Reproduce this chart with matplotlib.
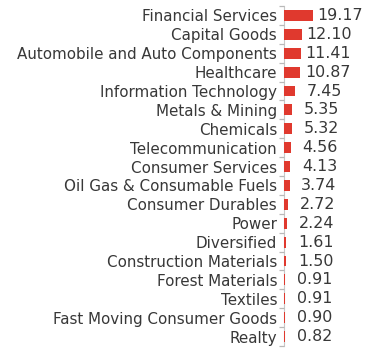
import matplotlib
matplotlib.use("Agg")
import matplotlib.pyplot as plt
import numpy as np

categories = ["Financial Services", "Capital Goods", "Automobile and Auto Components",
              "Healthcare", "Information Technology", "Metals & Mining", "Chemicals",
              "Telecommunication", "Consumer Services", "Oil Gas & Consumable Fuels",
              "Consumer Durables", "Power", "Diversified", "Construction Materials",
              "Forest Materials", "Textiles", "Fast Moving Consumer Goods", "Realty"]
values = [19.17, 12.10, 11.41, 10.87, 7.45, 5.35, 5.32, 4.56, 4.13, 3.74,
          2.72, 2.24, 1.61, 1.50, 0.91, 0.91, 0.90, 0.82]

plt.rcParams['font.family'] = ['DejaVu Sans']

fig = plt.figure(figsize=(3.85, 3.56), dpi=100)
ax = fig.add_axes([284/385, 1-346/356, 96/385, (346-6)/356])

n = len(categories)
y = np.arange(n)
ax.barh(y, values, height=0.58, color="#E0392E", zorder=3)
ax.set_ylim(n-0.5, -0.5)
ax.set_xlim(0, 63.5)

# boundary ticks (major, no labels)
ax.set_yticks(np.arange(n+1)-0.5)
ax.set_yticklabels([""] * (n+1))
ax.tick_params(axis='y', which='major', direction='out', length=3.5,
               color="#B8B8B8", width=0.9)
# category labels (minor, no tick marks)
ax.set_yticks(y, minor=True)
ax.set_yticklabels(categories, minor=True, fontsize=10.9, color="#383838")
ax.tick_params(axis='y', which='minor', length=0, pad=5)
ax.set_xticks([])
for s in ["top", "right", "bottom"]:
    ax.spines[s].set_visible(False)
ax.spines["left"].set_color("#C8C8C8")
ax.spines["left"].set_linewidth(0.8)
ax.spines["left"].set_zorder(1)

for yi, v in zip(y, values):
    off = 3.2 if v >= 10 else 8.3
    ax.annotate(f"{v:.2f}", xy=(v, yi), xytext=(off, 0),
                textcoords="offset points", va="center", ha="left",
                fontsize=11.4, color="#383838")

fig.savefig("out.png", dpi=100)
